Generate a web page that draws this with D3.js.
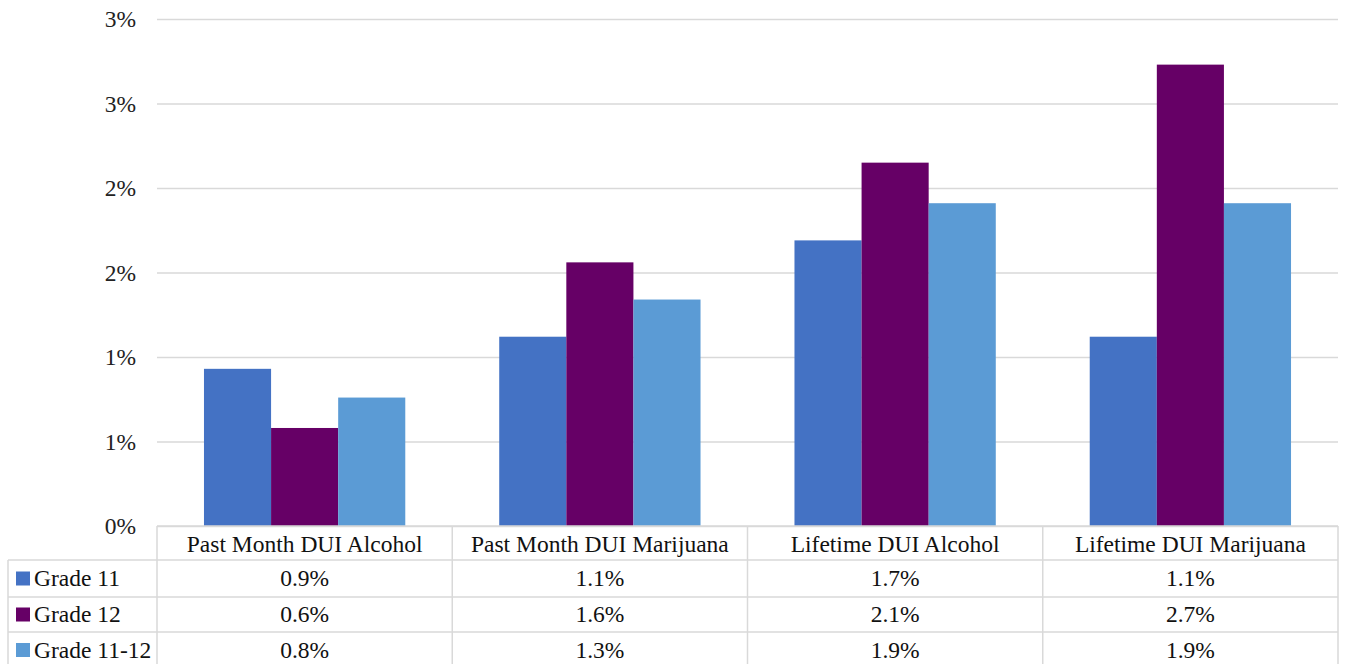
<!DOCTYPE html>
<html><head><meta charset="utf-8">
<script src="https://cdn.jsdelivr.net/npm/d3@7"></script>
<style>body{margin:0;background:#fff;}</style>
</head><body><svg id="c" width="1345" height="664"></svg>
<script>
const categories = ["Past Month DUI Alcohol","Past Month DUI Marijuana","Lifetime DUI Alcohol","Lifetime DUI Marijuana"];
const seriesNames = ["Grade 11","Grade 12","Grade 11-12"];
const grade11 = [0.0093, 0.0112, 0.0169, 0.0112];
const grade12 = [0.0058, 0.0156, 0.0215, 0.0273];
const grade1112 = [0.0076, 0.0134, 0.0191, 0.0191];
const yTicks = [0, 0.005, 0.01, 0.015, 0.02, 0.025, 0.03];
const colors = ["#4472C4","#660066","#5B9BD5"];
const series = [grade11, grade12, grade1112];

const svg = d3.select("#c");
const FONT = "Liberation Serif";
const FS = 23.5;
const L = 157, R = 1338, T = 19, B = 526;
const y = d3.scaleLinear().domain([0, 0.03]).range([B, T]);
const x0 = d3.scaleBand().domain(categories).range([L, R]).paddingInner(0).paddingOuter(0);
const x1 = d3.scaleBand().domain(seriesNames).range([0, x0.bandwidth()]).paddingInner(0).paddingOuter(0.7);

// gridlines + y labels
const yAxis = d3.axisLeft(y).tickValues(yTicks).tickSize(-(R-L)).tickFormat(d3.format(".0%"));
const ga = svg.append("g").attr("transform", `translate(${L},0)`).call(yAxis);
ga.attr("font-family", FONT).attr("font-size", FS);
ga.select(".domain").remove();
ga.selectAll(".tick line").attr("stroke", "#d9d9d9").attr("stroke-width", 1.5);
ga.selectAll(".tick text").attr("x", -21).attr("dy", "0.32em").attr("font-family", FONT).attr("font-size", FS).attr("fill", "#222");

// bars
const groups = svg.append("g").selectAll("g").data(categories).join("g")
  .attr("transform", d => `translate(${x0(d)},0)`);
groups.selectAll("rect").data((d, i) => series.map((s, j) => ({name: seriesNames[j], v: s[i], c: colors[j]})))
  .join("rect")
  .attr("x", d => x1(d.name))
  .attr("width", x1.bandwidth())
  .attr("y", d => y(d.v))
  .attr("height", d => B - y(d.v))
  .attr("fill", d => d.c);

// data table
const rowTop = [526, 560, 597, 632];
const rowBot = [560, 597, 632, 668];
const tableLeft = 8;
const lineColor = "#d9d9d9";
const tbl = svg.append("g");
tbl.append("line").attr("x1", L).attr("x2", R).attr("y1", B).attr("y2", B).attr("stroke", lineColor).attr("stroke-width", 1.5);
[560, 597, 632].forEach(yy => tbl.append("line").attr("x1", tableLeft).attr("x2", R).attr("y1", yy).attr("y2", yy).attr("stroke", lineColor).attr("stroke-width", 1.5));
const bounds = categories.map(c => x0(c)).concat([R]);
bounds.forEach(xx => tbl.append("line").attr("x1", xx).attr("x2", xx).attr("y1", B).attr("y2", 668).attr("stroke", lineColor).attr("stroke-width", 1.5));
tbl.append("line").attr("x1", tableLeft).attr("x2", tableLeft).attr("y1", 560).attr("y2", 668).attr("stroke", lineColor).attr("stroke-width", 1.5);

tbl.selectAll("text.hdr").data(categories).join("text").attr("class","hdr")
  .attr("x", d => x0(d) + x0.bandwidth()/2).attr("y", 552)
  .attr("text-anchor", "middle").attr("font-family", FONT).attr("font-size", FS).attr("fill", "#111")
  .text(d => d);

const fmt = d3.format(".1%");
series.forEach((s, j) => {
  const cy = (rowTop[j+1] + rowBot[j+1]) / 2;
  tbl.append("rect").attr("x", 16).attr("y", cy - 7).attr("width", 14).attr("height", 14).attr("fill", colors[j]);
  tbl.append("text").attr("x", 34).attr("y", cy + 7.5).attr("font-family", FONT).attr("font-size", FS).attr("fill", "#111").text(seriesNames[j]);
  tbl.selectAll(null).data(categories).join("text")
    .attr("x", (d) => x0(d) + x0.bandwidth()/2).attr("y", cy + 7.5)
    .attr("text-anchor", "middle").attr("font-family", FONT).attr("font-size", FS).attr("fill", "#111")
    .text((d, i) => fmt(s[i]));
});
</script></body></html>
